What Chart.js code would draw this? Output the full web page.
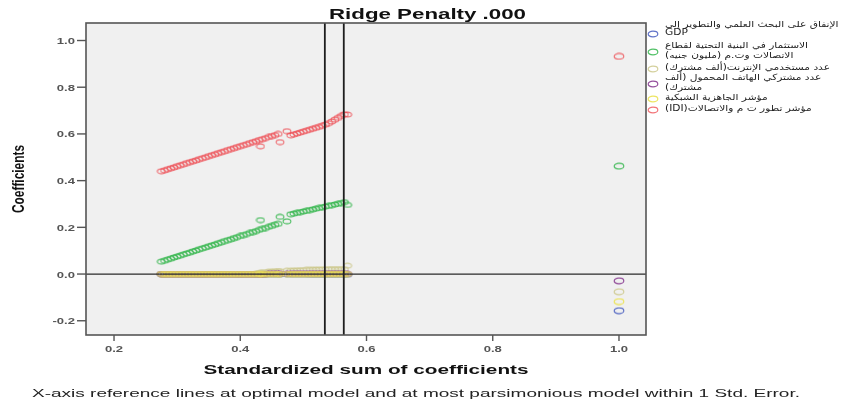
<!DOCTYPE html>
<html>
<head>
<meta charset="utf-8">
<script src="https://cdn.jsdelivr.net/npm/chart.js@4.4.0/dist/chart.umd.min.js"></script>
<style>
  html, body { margin: 0; padding: 0; background: #ffffff; }
  canvas { display: block; }
</style>
</head>
<body>
<canvas id="c" width="855" height="403"></canvas>
<script>
// Standardized sum of coefficients along the ridge trace (last point = no penalty)
const sumCoef = [
  0.275, 0.280, 0.285, 0.290, 0.295, 0.300, 0.305, 0.310, 0.315, 0.320,
  0.325, 0.330, 0.335, 0.340, 0.345, 0.350, 0.355, 0.360, 0.365, 0.370,
  0.375, 0.380, 0.385, 0.390, 0.395, 0.400, 0.405, 0.410, 0.415, 0.420,
  0.425, 0.430, 0.435, 0.440, 0.445, 0.450, 0.455, 0.460,
  0.432, 0.463, 0.474,
  0.480, 0.485, 0.490, 0.495, 0.500, 0.505, 0.510, 0.515, 0.520, 0.525,
  0.530, 0.535, 0.540, 0.545, 0.550, 0.555, 0.560, 0.565, 0.570,
  1.000
];

// Coefficients of each predictor at every point of the trace
const rdSpending = [
  -0.001, -0.001, -0.001, -0.001, -0.001, -0.001, -0.001, -0.001, -0.001, -0.001,
  -0.001, -0.001, -0.001, -0.001, -0.001, -0.001, -0.001, -0.001, -0.001, -0.001,
  -0.001, -0.001, -0.001, -0.002, -0.002, -0.002, -0.002, -0.002, -0.002, -0.002,
  -0.002, -0.002, -0.002, -0.002, -0.002, -0.002, -0.002, -0.002,
  -0.002, -0.002, -0.002,
  -0.002, -0.002, -0.002, -0.002, -0.002, -0.002, -0.003, -0.003, -0.003, -0.003,
  -0.003, -0.003, -0.003, -0.003, -0.003, -0.003, -0.003, -0.003, -0.003,
  -0.157
];
const infraInvestment = [
  0.053, 0.057, 0.062, 0.066, 0.071, 0.075, 0.079, 0.084, 0.088, 0.092,
  0.097, 0.101, 0.106, 0.110, 0.114, 0.119, 0.123, 0.127, 0.132, 0.136,
  0.141, 0.145, 0.149, 0.154, 0.158, 0.163, 0.167, 0.171, 0.176, 0.180,
  0.184, 0.189, 0.193, 0.197, 0.202, 0.206, 0.211, 0.215,
  0.231, 0.245, 0.226,
  0.256, 0.259, 0.262, 0.265, 0.268, 0.271, 0.274, 0.277, 0.280, 0.283,
  0.286, 0.289, 0.292, 0.295, 0.298, 0.301, 0.304, 0.308, 0.296,
  0.462
];
const internetUsers = [
  0.000, 0.000, 0.000, 0.000, 0.000, 0.000, 0.000, 0.000, 0.000, 0.000,
  0.000, 0.000, 0.000, 0.000, 0.000, 0.000, 0.000, 0.000, 0.000, 0.000,
  0.000, 0.000, 0.000, 0.000, 0.000, 0.000, 0.000, 0.000, 0.000, 0.000,
  0.002, 0.004, 0.006, 0.008, 0.010, 0.011, 0.012, 0.013,
  0.006, 0.012, 0.014,
  0.014, 0.015, 0.016, 0.016, 0.017, 0.018, 0.018, 0.019, 0.019, 0.020,
  0.020, 0.020, 0.021, 0.021, 0.021, 0.021, 0.021, 0.021, 0.036,
  -0.076
];
const mobileSubscribers = [
  0.000, 0.000, 0.000, 0.000, 0.000, 0.000, 0.000, 0.000, 0.000, 0.000,
  0.000, 0.000, 0.000, 0.000, 0.000, 0.000, 0.000, 0.000, 0.000, 0.000,
  0.000, 0.000, 0.000, 0.000, 0.000, 0.000, 0.000, 0.000, 0.000, 0.000,
  0.000, 0.000, 0.000, 0.000, 0.001, 0.001, 0.001, 0.001,
  0.000, 0.001, 0.001,
  0.001, 0.001, 0.001, 0.001, 0.001, 0.001, 0.001, 0.001, 0.001, 0.001,
  0.001, 0.001, 0.001, 0.001, 0.001, 0.001, 0.001, 0.001, 0.001,
  -0.029
];
const networkReadiness = [
  0.000, 0.000, 0.000, 0.000, 0.000, 0.000, 0.000, 0.000, 0.000, 0.000,
  0.000, 0.000, 0.000, 0.000, 0.000, 0.000, 0.000, 0.000, 0.000, 0.000,
  0.000, 0.000, 0.000, 0.000, 0.000, 0.000, 0.000, 0.000, 0.000, 0.000,
  0.000, 0.000, 0.000, 0.000, 0.000, 0.000, 0.000, 0.000,
  0.000, 0.000, 0.000,
  0.000, 0.000, 0.000, 0.000, 0.000, 0.000, 0.000, 0.000, 0.000, 0.000,
  0.000, 0.000, 0.000, 0.000, 0.000, 0.000, 0.000, 0.000, 0.000,
  -0.118
];
const ictIndex = [
  0.440, 0.444, 0.449, 0.453, 0.457, 0.462, 0.466, 0.470, 0.475, 0.479,
  0.483, 0.487, 0.492, 0.496, 0.500, 0.505, 0.509, 0.513, 0.518, 0.522,
  0.526, 0.531, 0.535, 0.539, 0.544, 0.548, 0.552, 0.556, 0.561, 0.565,
  0.569, 0.574, 0.578, 0.582, 0.587, 0.591, 0.595, 0.600,
  0.547, 0.565, 0.612,
  0.594, 0.598, 0.602, 0.606, 0.610, 0.614, 0.618, 0.622, 0.626, 0.630,
  0.635, 0.640, 0.646, 0.653, 0.661, 0.669, 0.677, 0.684, 0.683,
  0.932
];

const xTicks = [0.2, 0.4, 0.6, 0.8, 1.0];
const yTicks = [-0.2, 0.0, 0.2, 0.4, 0.6, 0.8, 1.0];
// optimal model and most parsimonious model within 1 Std. Error
const refLines = [0.534, 0.564];

const seriesNames = [
  "الإنفاق على البحث العلمي والتطوير إلى GDP",
  "الاستثمار في البنية التحتية لقطاع الاتصالات وت.م (مليون جنيه)",
  "عدد مستخدمي الإنترنت(ألف مشترك)",
  "عدد مشتركي الهاتف المحمول (ألف مشترك)",
  "مؤشر الجاهزية الشبكية",
  "مؤشر تطور ت م والاتصالات(IDI)"
];
const legendLines = [
  ["الإنفاق على البحث العلمي والتطوير إلى", "GDP"],
  ["الاستثمار في البنية التحتية لقطاع", "الاتصالات وت.م (مليون جنيه)"],
  ["عدد مستخدمي الإنترنت(ألف مشترك)"],
  ["عدد مشتركي الهاتف المحمول (ألف", "مشترك)"],
  ["مؤشر الجاهزية الشبكية"],
  ["مؤشر تطور ت م والاتصالات(IDI)"]
];
const seriesValues = [rdSpending, infraInvestment, internetUsers, mobileSubscribers, networkReadiness, ictIndex];
const seriesColors = [
  'rgba(70, 92, 190, 0.85)',
  'rgba(52, 182, 76, 0.85)',
  'rgba(205, 200, 140, 0.85)',
  'rgba(130, 50, 140, 0.85)',
  'rgba(236, 228, 90, 0.95)',
  'rgba(238, 70, 76, 0.75)'
];

// hollow elliptical marker
function ring(color, w, h, lw) {
  const cv = document.createElement('canvas');
  cv.width = w; cv.height = h;
  const g = cv.getContext('2d');
  g.strokeStyle = color;
  g.lineWidth = lw;
  g.beginPath();
  g.ellipse(w / 2, h / 2, w / 2 - lw, h / 2 - lw, 0, 0, Math.PI * 2);
  g.stroke();
  return cv;
}
const smallRings = seriesColors.map(c => ring(c, 10, 7, 1.1));
const bigRings = seriesColors.map(c => ring(c, 12, 8, 1.2));
const lastIndex = sumCoef.length - 1;

// later series are painted above earlier ones
const datasets = seriesValues.map((vals, i) => ({
  label: seriesNames[i],
  order: seriesValues.length - i,
  data: sumCoef.map((x, j) => ({ x: x, y: vals[j] })),
  showLine: false,
  pointStyle: ctx => (ctx.dataIndex === lastIndex ? bigRings[i] : smallRings[i]),
  pointRadius: 4
}));

function stretchedText(ctx, text, x, y, font, color, align, sx, sy) {
  ctx.save();
  ctx.font = font;
  ctx.fillStyle = color;
  ctx.textAlign = align;
  ctx.textBaseline = 'alphabetic';
  ctx.translate(x, y);
  ctx.scale(sx, sy || 1);
  ctx.fillText(text, 0, 0);
  ctx.restore();
}
function fitText(ctx, text, cx, y, font, color, width) {
  ctx.save();
  ctx.font = font;
  const w = ctx.measureText(text).width;
  ctx.restore();
  stretchedText(ctx, text, cx, y, font, color, 'center', width / w);
}

const decorations = {
  id: 'decorations',
  beforeDatasetsDraw(chart) {
    const { ctx, chartArea: a } = chart;
    ctx.save();
    ctx.fillStyle = '#f0f0f0';
    ctx.fillRect(a.left, a.top, a.right - a.left, a.bottom - a.top);
    ctx.restore();
  },
  afterDatasetsDraw(chart) {
    const { ctx, chartArea: a, scales: { x, y } } = chart;
    ctx.save();
    // zero line
    const y0 = y.getPixelForValue(0);
    ctx.strokeStyle = '#2a2a2a';
    ctx.lineWidth = 1.2;
    ctx.beginPath(); ctx.moveTo(a.left, y0); ctx.lineTo(a.right, y0); ctx.stroke();
    // reference lines
    ctx.strokeStyle = '#1e1e1e';
    ctx.lineWidth = 1.8;
    refLines.forEach(v => {
      const px = x.getPixelForValue(v);
      ctx.beginPath(); ctx.moveTo(px, a.top); ctx.lineTo(px, a.bottom); ctx.stroke();
    });
    // frame
    ctx.strokeStyle = '#555555';
    ctx.lineWidth = 1.6;
    ctx.strokeRect(a.left, a.top, a.right - a.left, a.bottom - a.top);
    // tick marks and labels
    ctx.strokeStyle = '#555555';
    ctx.lineWidth = 1.4;
    yTicks.forEach(v => {
      const py = y.getPixelForValue(v);
      ctx.beginPath(); ctx.moveTo(a.left - 9, py); ctx.lineTo(a.left, py); ctx.stroke();
      stretchedText(ctx, v.toFixed(1), a.left - 11, py + 3.5, 'bold 9px "Liberation Sans"', '#555', 'right', 1.45);
    });
    xTicks.forEach(v => {
      const px = x.getPixelForValue(v);
      ctx.beginPath(); ctx.moveTo(px, a.bottom); ctx.lineTo(px, a.bottom + 6); ctx.stroke();
      stretchedText(ctx, v.toFixed(1), px, a.bottom + 17, 'bold 9px "Liberation Sans"', '#555', 'center', 1.45);
    });
    ctx.restore();
  },
  afterDraw(chart) {
    const { ctx, chartArea: a } = chart;
    const W = chart.width;
    // titles
    fitText(ctx, 'Ridge Penalty .000', W / 2, 18.5, 'bold 14px "Liberation Sans"', '#111', 197);
    fitText(ctx, 'Standardized sum of coefficients', (a.left + a.right) / 2, 374, 'bold 13px "Liberation Sans"', '#111', 325);
    fitText(ctx, 'X-axis reference lines at optimal model and at most parsimonious model within 1 Std. Error.', 416, 397, '11px "Liberation Sans"', '#222', 768);
    // vertical axis title
    ctx.save();
    ctx.translate(24, (a.top + a.bottom) / 2);
    ctx.rotate(-Math.PI / 2);
    ctx.font = 'bold 13px "Liberation Sans"';
    const tw = ctx.measureText('Coefficients').width;
    ctx.scale(68 / tw, 1.3);
    ctx.fillStyle = '#111';
    ctx.textAlign = 'center';
    ctx.textBaseline = 'alphabetic';
    ctx.fillText('Coefficients', 0, 0);
    ctx.restore();
    // legend
    const markerX = a.right + 7;
    const textX = 665;
    const maxW = 187;
    const rows = [
      { marker: 34, lines: [27, 35] },
      { marker: 52, lines: [48, 58] },
      { marker: 69, lines: [70] },
      { marker: 84, lines: [80, 90] },
      { marker: 99, lines: [100] },
      { marker: 110, lines: [111] }
    ];
    rows.forEach((r, i) => {
      const img = bigRings[i];
      ctx.drawImage(img, markerX - img.width / 2, r.marker - img.height / 2);
      legendLines[i].forEach((t, k) => {
        ctx.save();
        ctx.font = '8.5px "DejaVu Sans"';
        ctx.fillStyle = '#222';
        const arabic = /[\u0600-\u06FF]/.test(t);
        ctx.direction = arabic ? 'rtl' : 'ltr';
        ctx.textAlign = 'left';
        ctx.textBaseline = 'alphabetic';
        const w = ctx.measureText(t).width;
        const sx = Math.min(1.25, maxW / w);
        ctx.translate(textX, r.lines[k]);
        ctx.scale(sx, 1);
        ctx.fillText(t, 0, 0);
        ctx.restore();
      });
    });
  }
};

new Chart(document.getElementById('c'), {
  type: 'scatter',
  data: { datasets: datasets },
  options: {
    responsive: false,
    animation: false,
    devicePixelRatio: 1,
    layout: { padding: { left: 0, top: 23, right: 209, bottom: 0 } },
    plugins: { legend: { display: false }, tooltip: { enabled: false } },
    scales: {
      x: {
        type: 'linear', min: 0.1556, max: 1.0428,
        grid: { display: false }, border: { display: false },
        ticks: { display: false },
        afterFit(s) { s.height = 68; }
      },
      y: {
        type: 'linear', min: -0.261, max: 1.075,
        grid: { display: false }, border: { display: false },
        ticks: { display: false },
        afterFit(s) { s.width = 86; }
      }
    }
  },
  plugins: [decorations]
});
</script>
</body>
</html>
